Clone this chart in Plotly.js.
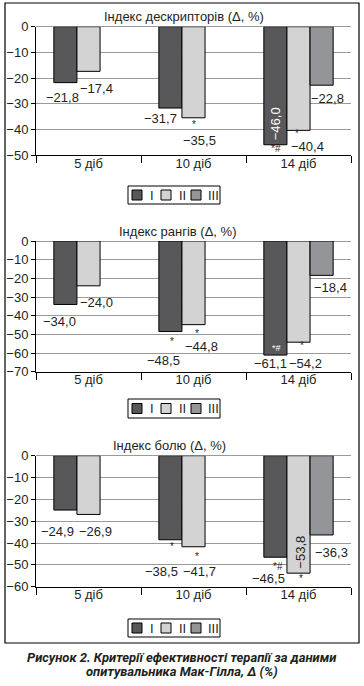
<!DOCTYPE html>
<html><head><meta charset="utf-8">
<script src="https://cdn.plot.ly/plotly-3.0.1.min.js"></script>
<style>html,body{margin:0;padding:0;background:#fff}#chart{width:364px;height:686px}</style>
</head><body><div id="chart"></div>
<script>
// ---- data ----
const categories = ['5 діб', '10 діб', '14 діб'];
const seriesNames = ['I', 'II', 'III'];
const panelTitles = ['Індекс дескрипторів (Δ, %)', 'Індекс рангів (Δ, %)', 'Індекс болю (Δ, %)'];
const captionLines = ['Рисунок 2. Критерії ефективності терапії за даними', 'опитувальника Мак-Гілла, Δ (%)'];

const descI = [-21.8, -31.7, -46.0];
const descII = [-17.4, -35.5, -40.4];
const descIII = [null, null, -22.8];
const rankI = [-34.0, -48.5, -61.1];
const rankII = [-24.0, -44.8, -54.2];
const rankIII = [null, null, -18.4];
const painI = [-24.9, -38.5, -46.5];
const painII = [-26.9, -41.7, -53.8];
const painIII = [null, null, -36.3];
const yRanges = [[-50, 0], [-70, 0], [-60, 0]];

// ---- styles ----
const W = 364, H = 686;
const X = p => p / W;
const Y = p => 1 - p / H;
const colors = ['#58585a', '#d3d3d3', '#939598'];
const ink = '#231f20';
const fontFam = 'Liberation Sans, Arial, sans-serif';
const panelPx = [[26.7, 155], [241, 371.7], [455.7, 586.7]];
const panelData = [[descI, descII, descIII], [rankI, rankII, rankIII], [painI, painII, painIII]];

const fmt = v => '\u2212' + Math.abs(v).toFixed(1).replace('.', ',');

const traces = [];
panelData.forEach((series, p) => {
  series.forEach((vals, s) => {
    traces.push({
      type: 'bar', x: categories, y: vals, name: seriesNames[s],
      xaxis: p === 0 ? 'x' : 'x' + (p + 1), yaxis: p === 0 ? 'y' : 'y' + (p + 1),
      marker: {color: colors[s], line: {color: '#000', width: 1}},
      hoverinfo: 'skip', showlegend: false
    });
  });
});

const layout = {
  width: W, height: H, margin: {l: 0, r: 0, t: 0, b: 0},
  paper_bgcolor: '#fff', plot_bgcolor: '#fff', showlegend: false,
  barmode: 'group', bargap: 0.34, bargroupgap: 0,
  font: {family: fontFam, size: 13, color: ink},
  annotations: [], shapes: []
};

panelPx.forEach((pp, p) => {
  const sfx = p === 0 ? '' : String(p + 1);
  layout['xaxis' + sfx] = {
    domain: [X(36), X(351)], anchor: 'y' + sfx, type: 'category', range: [-0.5, 2.5],
    showline: true, linecolor: '#000', linewidth: 1, ticks: 'outside', tickson: 'boundaries',
    ticklen: 7, tickcolor: '#000', ticklabelstandoff: -4, showgrid: false, zeroline: false, automargin: false,
    tickfont: {size: 13, color: ink, family: fontFam}, fixedrange: true
  };
  layout['yaxis' + sfx] = {
    domain: [Y(pp[1]), Y(pp[0])], anchor: 'x' + sfx, range: yRanges[p], dtick: 10,
    showline: true, linecolor: '#000', linewidth: 1, ticks: 'outside', ticklen: 4, tickcolor: '#000',
    showgrid: true, gridcolor: '#9a9a9a', gridwidth: 1, zeroline: true, zerolinecolor: '#9a9a9a', zerolinewidth: 1,
    automargin: false, tickfont: {size: 13, color: ink, family: fontFam}, fixedrange: true
  };
});

// titles
const titlePx = [[184, 16], [177, 232], [169, 445]];
panelTitles.forEach((t, p) => {
  layout.annotations.push({xref: 'paper', yref: 'paper', x: X(titlePx[p][0]), y: Y(titlePx[p][1]),
    text: t, showarrow: false, xanchor: 'center', yanchor: 'middle', font: {size: 13, color: ink}});
});

// value labels: [panel, series, category, kind, xshift, yshift]
const labelSpecs = [
  [0, 0, 0, 'v', -26, -15], [0, 1, 0, 'v', 8, -17],
  [0, 0, 1, 'v', -33, -10], [0, 1, 1, '*', 0, -7], [0, 1, 1, 'v', 6, -23],
  [0, 0, 2, 'vw', -23, 21], [0, 0, 2, '*#', -23, -4], [0, 1, 2, '*', -2, -3], [0, 1, 2, 'v', 9, -16.5], [0, 2, 2, 'v', 29, -13],
  [1, 0, 0, 'v', -29, -17.5], [1, 1, 0, 'v', 8, -17],
  [1, 0, 1, '*', -22, -9.5], [1, 0, 1, 'v', -30, -28.5], [1, 1, 1, '*', 3, -9], [1, 1, 1, 'v', 8, -22],
  [1, 0, 2, '*#w', -22, 7], [1, 0, 2, 'v', -28, -8.5], [1, 1, 2, '*', 3, -3], [1, 1, 2, 'v', 7, -21.5], [1, 2, 2, 'v', 32, -12.6],
  [2, 0, 0, 'v', -31.5, -21], [2, 1, 0, 'v', 7, -16.6],
  [2, 0, 1, '*', -22, -7], [2, 0, 1, 'v', -32, -32], [2, 1, 1, '*', 3, -10], [2, 1, 1, 'v', 6, -25],
  [2, 0, 2, '*#', -21, -9], [2, 0, 2, 'v', -30, -21], [2, 1, 2, 'vr', 2, 21], [2, 1, 2, '*', 2, -5], [2, 2, 2, 'v', 33, -18]
];
labelSpecs.forEach(([p, s, c, kind, dx, dy]) => {
  const sfx = p === 0 ? '' : String(p + 1);
  const v = panelData[p][s][c];
  const a = {xref: 'x' + sfx, yref: 'y' + sfx, x: c, y: v, xshift: dx, yshift: dy,
    showarrow: false, xanchor: 'center', yanchor: 'middle', font: {size: 13, color: ink}};
  if (kind === 'v') { a.text = fmt(v); }
  else if (kind === 'vw') { a.text = fmt(v); a.textangle = -90; a.font = {size: 13, color: '#fff'}; }
  else if (kind === 'vr') { a.text = fmt(v); a.textangle = -90; a.font = {size: 13, color: ink}; }
  else if (kind === '*#w') { a.text = '*#'; a.font = {size: 9, color: '#fff'}; }
  else { a.text = kind; a.font = {size: 10, color: ink}; }
  layout.annotations.push(a);
});

// legends (drawn as shapes + text)
const legendPx = [[186, 204], [399, 418], [619, 637]];
legendPx.forEach(([top, bot]) => {
  layout.shapes.push({type: 'rect', xref: 'paper', yref: 'paper', x0: X(128), x1: X(220), y0: Y(bot), y1: Y(top),
    line: {color: '#000', width: 1}, fillcolor: 'rgba(0,0,0,0)'});
  const cy = (top + bot) / 2;
  const sqLeft = [132, 161, 191], txLeft = [148, 177, 206];
  seriesNames.forEach((n, s) => {
    layout.shapes.push({type: 'rect', xref: 'paper', yref: 'paper', x0: X(sqLeft[s]), x1: X(sqLeft[s] + 10),
      y0: Y(cy + 5), y1: Y(cy - 5), line: {color: '#000', width: 1}, fillcolor: colors[s]});
    layout.annotations.push({xref: 'paper', yref: 'paper', x: X(txLeft[s]), y: Y(cy), text: n, showarrow: false,
      xanchor: 'left', yanchor: 'middle', font: {size: 13, color: ink}});
  });
});

// outer frame
layout.shapes.push({type: 'rect', xref: 'paper', yref: 'paper', x0: X(5), x1: X(359), y0: Y(643), y1: Y(3),
  line: {color: '#000', width: 1.2}, fillcolor: 'rgba(0,0,0,0)', layer: 'below'});

// caption
captionLines.forEach((t, i) => {
  layout.annotations.push({xref: 'paper', yref: 'paper', x: X(182), y: Y(657 + i * 14), text: '<b><i>' + t + '</i></b>',
    showarrow: false, xanchor: 'center', yanchor: 'middle',
    font: {family: 'Liberation Sans Narrow, Roboto, Arial, sans-serif', size: 13, color: ink}});
});

Plotly.newPlot('chart', traces, layout, {staticPlot: true, displayModeBar: false});
</script></body></html>
